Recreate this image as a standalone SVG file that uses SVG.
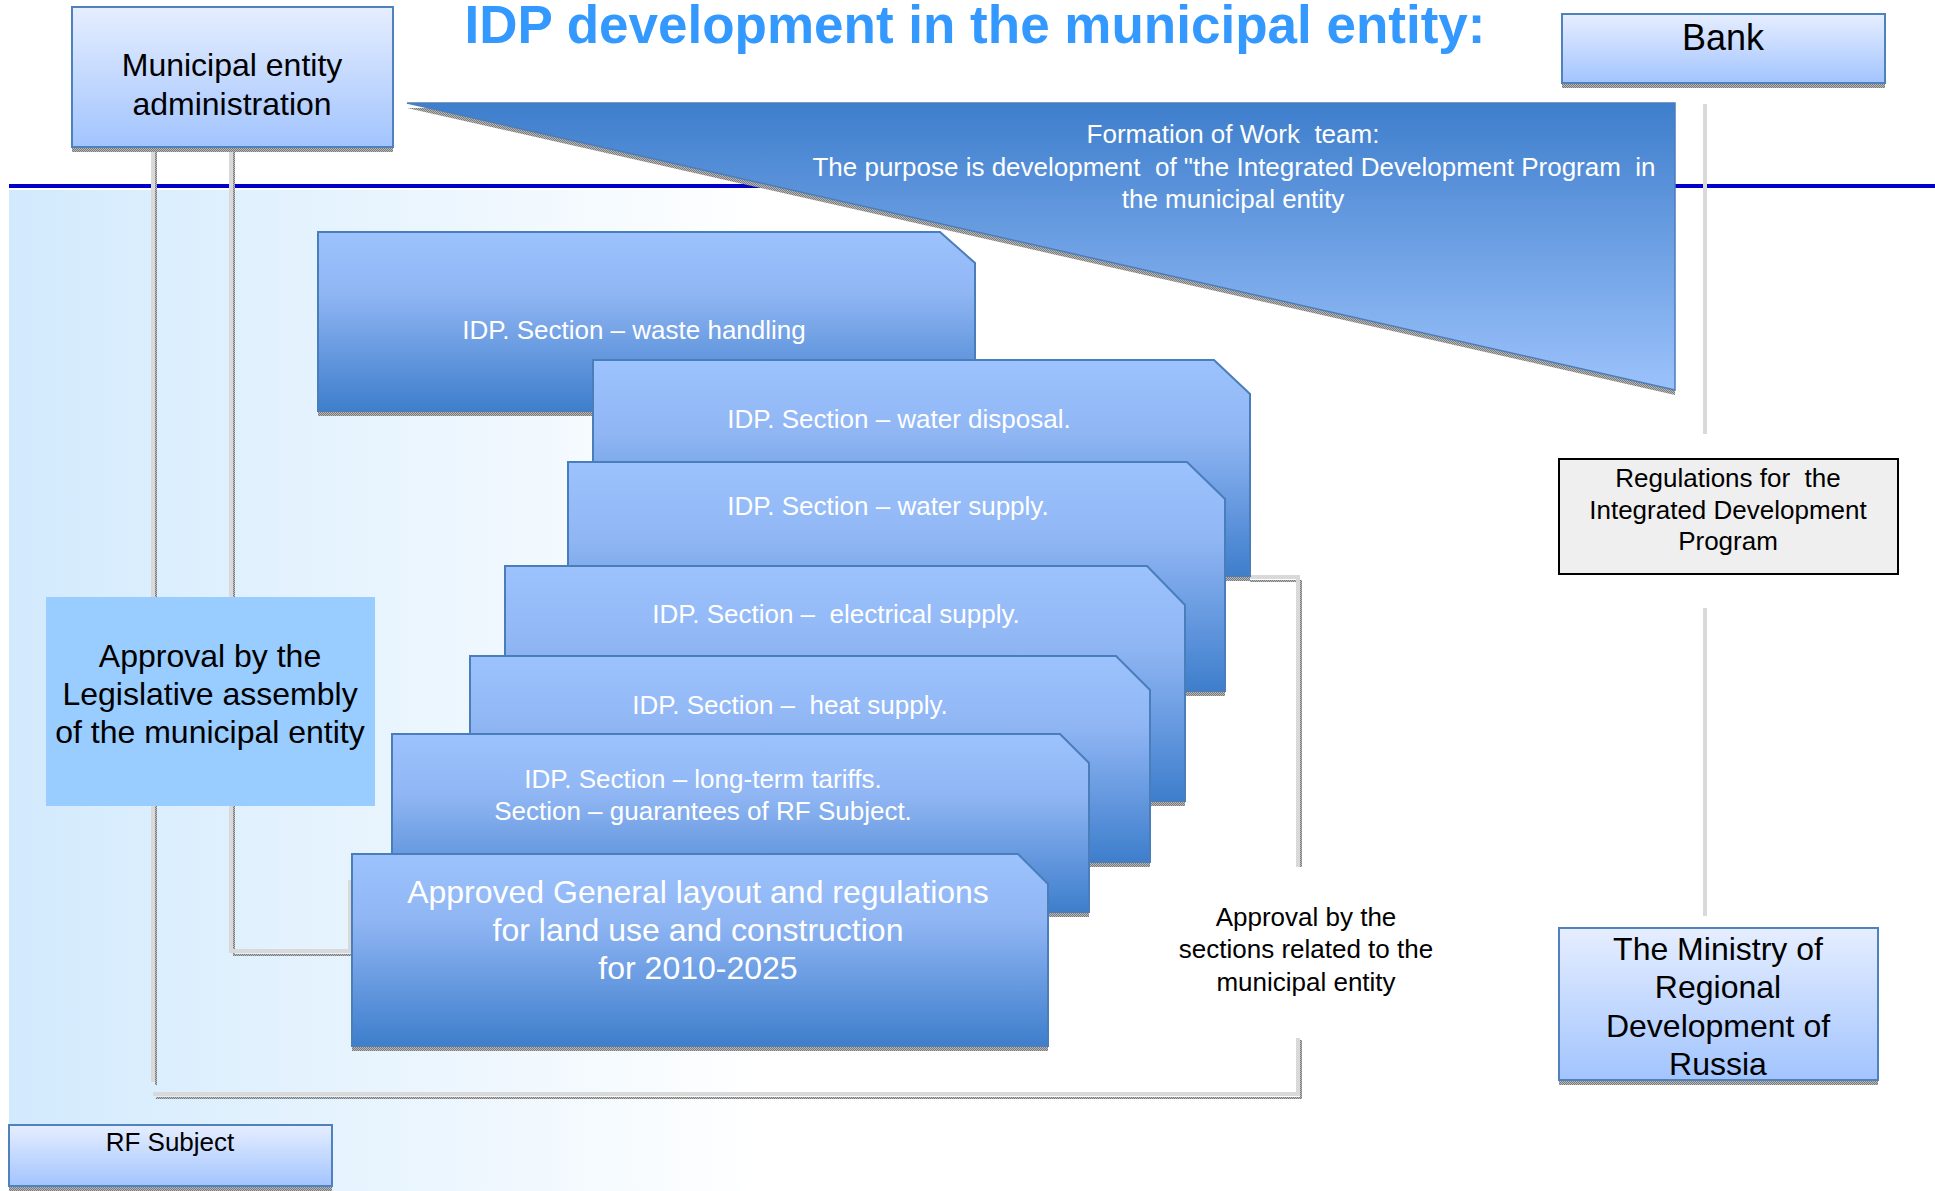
<svg xmlns="http://www.w3.org/2000/svg" width="1935" height="1191" viewBox="0 0 1935 1191">
<defs>
<linearGradient id="bg" gradientUnits="userSpaceOnUse" x1="9" y1="0" x2="760" y2="0">
<stop offset="0" stop-color="#d2eafd"/><stop offset="1" stop-color="#ffffff"/>
</linearGradient>
<linearGradient id="sec" x1="0" y1="0" x2="0" y2="1">
<stop offset="0" stop-color="#9dc3fe"/><stop offset="0.35" stop-color="#8fb5f3"/><stop offset="1" stop-color="#3e7ecc"/>
</linearGradient>
<linearGradient id="tri" x1="0" y1="0" x2="0" y2="1">
<stop offset="0" stop-color="#3e7ecc"/><stop offset="1" stop-color="#9cc2fb"/>
</linearGradient>
<linearGradient id="lite" x1="0" y1="0" x2="0" y2="1">
<stop offset="0" stop-color="#e6eeff"/><stop offset="1" stop-color="#a2c4fe"/>
</linearGradient>
<pattern id="shd" width="2" height="2" patternUnits="userSpaceOnUse">
<rect width="2" height="2" fill="#b8b8b8"/><rect width="1" height="1" fill="#7a7a7a"/><rect x="1" y="1" width="1" height="1" fill="#7a7a7a"/>
</pattern>
</defs>
<style>
.t{font-family:"Liberation Sans",Arial,sans-serif;text-anchor:middle;white-space:pre}
.w{fill:#ffffff;font-size:26px}
.k{fill:#000000}
.sec{fill:url(#sec);stroke:#4a7ebb;stroke-width:2}
.lite{fill:url(#lite);stroke:#4f81bd;stroke-width:2}
.sh{fill:url(#shd)}
.ln{fill:none;stroke:#d9d9d9;stroke-width:4}
.lns{fill:none;stroke:url(#shd);stroke-width:2}
</style>

<rect x="0" y="0" width="1935" height="1191" fill="#ffffff"/>
<rect id="background" x="9" y="190" width="1926" height="1001" fill="url(#bg)"/>
<rect id="divider" x="9" y="184" width="1926" height="4" fill="#0000c8"/>

<text id="title" class="t" x="975" y="43" font-size="53" font-weight="bold" fill="#3399ff">IDP development in the municipal entity:</text>

<g id="connectors">
<polyline class="lns" points="156,150 156,1085"/>
<polyline class="ln" points="153,147 153,1082"/>
<polyline class="lns" points="234,150 234,955 352,955"/>
<polyline class="ln" points="231,147 231,951 350,951 350,880"/>
<polyline class="lns" points="156,1098 1301,1098 1301,1040"/>
<polyline class="ln" points="153,1094 1298,1094 1298,1038"/>
<polyline class="lns" points="1250,581 1301,581 1301,867"/>
<polyline class="ln" points="1250,577 1298,577 1298,867"/>
<polyline class="ln" points="1705,104 1705,434"/>
<polyline class="ln" points="1705,608 1705,916"/>
</g>

<g id="municipal">
<rect class="sh" x="72" y="147" width="321" height="5"/>
<rect class="lite" x="72" y="7" width="321" height="140"/>
<text class="t k" x="232" y="76" font-size="32">Municipal entity</text>
<text class="t k" x="232" y="115" font-size="32">administration</text>
</g>

<g id="work-team">
<polygon points="407,108 1675,108 1675,395" fill="url(#shd)"/>
<polygon points="407,103 1675,103 1675,390" fill="url(#tri)" stroke="#4a7ebb" stroke-width="1.5"/>
<text class="t w" x="1233" y="143">Formation of Work  team:</text>
<text class="t w" x="1234" y="176">The purpose is development  of "the Integrated Development Program  in</text>
<text class="t w" x="1233" y="208">the municipal entity</text>
</g>

<g id="bank">
<rect class="sh" x="1562" y="83" width="323" height="5"/>
<rect class="lite" x="1562" y="14" width="323" height="69"/>
<text class="t k" x="1723" y="50" font-size="36">Bank</text>
</g>

<g id="regulations">
<rect x="1559" y="459" width="339" height="115" fill="#efefef" stroke="#000000" stroke-width="2"/>
<text class="t k" x="1728" y="487" font-size="26">Regulations for  the</text>
<text class="t k" x="1728" y="519" font-size="26">Integrated Development</text>
<text class="t k" x="1728" y="550" font-size="26">Program</text>
</g>

<g id="sec-waste">
<rect class="sh" x="318" y="411" width="657" height="5"/>
<path class="sec" d="M318,232 H940 L975,263 V411 H318 Z"/>
<text class="t w" x="634" y="339">IDP. Section – waste handling</text>
</g>

<g id="sec-water-disposal">
<rect class="sh" x="593" y="576" width="657" height="5"/>
<path class="sec" d="M593,360 H1214 L1250,394 V576 H593 Z"/>
<text class="t w" x="899" y="428">IDP. Section – water disposal.</text>
</g>

<g id="sec-water-supply">
<rect class="sh" x="568" y="691" width="657" height="5"/>
<path class="sec" d="M568,462 H1187 L1225,499 V691 H568 Z"/>
<text class="t w" x="888" y="515">IDP. Section – water supply.</text>
</g>

<g id="sec-electrical">
<rect class="sh" x="505" y="801" width="680" height="5"/>
<path class="sec" d="M505,566 H1147 L1185,605 V801 H505 Z"/>
<text class="t w" x="836" y="623">IDP. Section –  electrical supply.</text>
</g>

<g id="sec-heat">
<rect class="sh" x="470" y="862" width="680" height="5"/>
<path class="sec" d="M470,656 H1116 L1150,690 V862 H470 Z"/>
<text class="t w" x="790" y="714">IDP. Section –  heat supply.</text>
</g>

<g id="sec-tariffs">
<rect class="sh" x="392" y="912" width="697" height="5"/>
<path class="sec" d="M392,734 H1060 L1089,763 V912 H392 Z"/>
<text class="t w" x="703" y="788">IDP. Section – long-term tariffs.</text>
<text class="t w" x="703" y="820">Section – guarantees of RF Subject.</text>
</g>

<g id="approved-layout">
<rect class="sh" x="352" y="1046" width="696" height="5"/>
<path class="sec" d="M352,854 H1018 L1048,884 V1046 H352 Z"/>
<text class="t" x="698" y="903" font-size="32" fill="#ffffff">Approved General layout and regulations</text>
<text class="t" x="698" y="941" font-size="32" fill="#ffffff">for land use and construction</text>
<text class="t" x="698" y="979" font-size="32" fill="#ffffff">for 2010-2025</text>
</g>

<g id="approval-legislative">
<rect x="46" y="597" width="329" height="209" fill="#99ccff"/>
<text class="t k" x="210" y="667" font-size="32">Approval by the</text>
<text class="t k" x="210" y="705" font-size="32">Legislative assembly</text>
<text class="t k" x="210" y="743" font-size="32">of the municipal entity</text>
</g>

<g id="approval-sections">
<text class="t k" x="1306" y="926" font-size="26">Approval by the</text>
<text class="t k" x="1306" y="958" font-size="26">sections related to the</text>
<text class="t k" x="1306" y="991" font-size="26">municipal entity</text>
</g>

<g id="ministry">
<rect class="sh" x="1559" y="1080" width="319" height="5"/>
<rect class="lite" x="1559" y="928" width="319" height="152"/>
<text class="t k" x="1718" y="960" font-size="32">The Ministry of</text>
<text class="t k" x="1718" y="998" font-size="32">Regional</text>
<text class="t k" x="1718" y="1037" font-size="32">Development of</text>
<text class="t k" x="1718" y="1075" font-size="32">Russia</text>
</g>

<g id="rf-subject">
<rect class="sh" x="9" y="1186" width="323" height="5"/>
<rect class="lite" x="9" y="1125" width="323" height="61"/>
<text class="t k" x="170" y="1151" font-size="26">RF Subject</text>
</g>
</svg>
